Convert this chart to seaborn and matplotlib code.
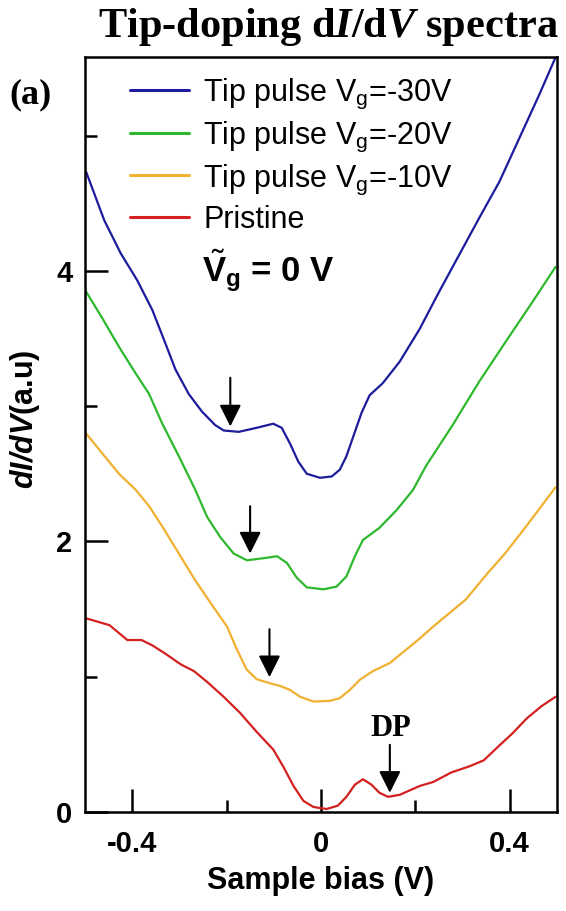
import pandas as pd
import matplotlib
matplotlib.use("Agg")
import matplotlib.pyplot as plt
import seaborn as sns
from matplotlib.ticker import MultipleLocator

sns.set_theme(style="ticks")
plt.rcParams['font.family'] = ['Liberation Sans', 'DejaVu Sans']
plt.rcParams['mathtext.fontset'] = 'custom'
plt.rcParams['mathtext.rm'] = 'Liberation Sans'
plt.rcParams['mathtext.bf'] = 'Liberation Sans:bold'
plt.rcParams['mathtext.sf'] = 'Liberation Sans:bold:italic'
plt.rcParams['mathtext.it'] = 'Liberation Serif:bold:italic'
for key in ['text.color', 'axes.labelcolor', 'xtick.color', 'ytick.color', 'axes.edgecolor']:
    plt.rcParams[key] = 'black'

# Kurver lest av bildet (bias i V, dI/dV i a.u.)
bias_blue = [-0.497, -0.459, -0.424, -0.389, -0.357, -0.329, -0.308, -0.280, -0.252, -0.224,
             -0.206, -0.174, -0.136, -0.101, -0.083, -0.065, -0.048, -0.030, -0.002, 0.023,
             0.040, 0.054, 0.068, 0.086, 0.103, 0.131, 0.167, 0.209, 0.251, 0.293, 0.335,
             0.378, 0.420, 0.462, 0.497]
didv_blue = [4.73, 4.375, 4.13, 3.93, 3.71, 3.46, 3.27, 3.09, 2.96, 2.86,
             2.82, 2.81, 2.84, 2.87, 2.84, 2.72, 2.59, 2.50, 2.47, 2.48,
             2.53, 2.63, 2.77, 2.95, 3.08, 3.17, 3.33, 3.57, 3.85, 4.12, 4.39,
             4.66, 4.98, 5.30, 5.58]

bias_green = [-0.498, -0.463, -0.428, -0.392, -0.364, -0.336, -0.301, -0.266, -0.241, -0.213,
              -0.185, -0.157, -0.122, -0.093, -0.072, -0.051, -0.030, 0.005, 0.033, 0.054,
              0.072, 0.089, 0.124, 0.160, 0.195, 0.223, 0.279, 0.335, 0.392, 0.448, 0.497]
didv_green = [3.85, 3.65, 3.44, 3.24, 3.09, 2.87, 2.63, 2.38, 2.18, 2.03,
              1.91, 1.86, 1.875, 1.89, 1.84, 1.73, 1.66, 1.645, 1.665, 1.74,
              1.89, 2.01, 2.10, 2.23, 2.38, 2.56, 2.86, 3.18, 3.48, 3.77, 4.03]

bias_orange = [-0.498, -0.463, -0.428, -0.392, -0.364, -0.336, -0.301, -0.266, -0.231, -0.199,
               -0.178, -0.157, -0.136, -0.108, -0.086, -0.065, -0.044, -0.016, 0.019, 0.040,
               0.061, 0.082, 0.110, 0.146, 0.181, 0.209, 0.238, 0.276, 0.307, 0.352, 0.390,
               0.428, 0.467, 0.497]
didv_orange = [2.80, 2.65, 2.50, 2.38, 2.26, 2.11, 1.91, 1.71, 1.53, 1.37,
               1.20, 1.05, 0.98, 0.95, 0.93, 0.90, 0.85, 0.815, 0.82, 0.84,
               0.90, 0.975, 1.04, 1.10, 1.20, 1.28, 1.37, 1.48, 1.57, 1.76, 1.91,
               2.08, 2.26, 2.40]

bias_red = [-0.497, -0.448, -0.410, -0.380, -0.357, -0.330, -0.297, -0.269, -0.241, -0.206,
            -0.171, -0.136, -0.101, -0.080, -0.058, -0.037, -0.016, 0.012, 0.036, 0.054,
            0.072, 0.089, 0.107, 0.124, 0.142, 0.167, 0.209, 0.238, 0.276, 0.314, 0.345,
            0.375, 0.406, 0.436, 0.467, 0.497]
didv_red = [1.43, 1.38, 1.27, 1.27, 1.23, 1.17, 1.09, 1.04, 0.96, 0.85,
            0.73, 0.59, 0.46, 0.335, 0.19, 0.08, 0.035, 0.02, 0.045, 0.11,
            0.20, 0.24, 0.20, 0.14, 0.11, 0.125, 0.19, 0.22, 0.29, 0.335, 0.38,
            0.48, 0.58, 0.69, 0.78, 0.85]

labels = ['Tip pulse V$_\\mathrm{g}$=-30V', 'Tip pulse V$_\\mathrm{g}$=-20V',
          'Tip pulse V$_\\mathrm{g}$=-10V', 'Pristine']
colors = ['#1c1c9c', '#2eb82e', '#f0b030', '#d42020']

# Piler: (bias, hale, spiss)
arrow_bias = [-0.192, -0.150, -0.109, 0.146]
arrow_tail = [3.21, 2.26, 1.35, 0.495]
arrow_tip = [2.85, 1.91, 0.995, 0.14]

frames = []
for lab, xs, ys in zip(labels, [bias_blue, bias_green, bias_orange, bias_red],
                       [didv_blue, didv_green, didv_orange, didv_red]):
    frames.append(pd.DataFrame({'bias': xs, 'didv': ys, 'kurve': lab}))
df = pd.concat(frames, ignore_index=True)

fig = plt.figure(figsize=(5.66, 9.11), dpi=100)
ax = fig.add_axes([0.150, 0.109, 0.834, 0.828])

sns.lineplot(data=df, x='bias', y='didv', hue='kurve', hue_order=labels,
             palette=colors, estimator=None, sort=False, linewidth=1.6, ax=ax)

for xb, yt, yh in zip(arrow_bias, arrow_tail, arrow_tip):
    ax.annotate('', xy=(xb, yh), xytext=(xb, yt),
                arrowprops=dict(arrowstyle='-|>,head_length=1.1,head_width=0.55',
                                color='black', lw=1.5, shrinkA=0, shrinkB=0))

ax.text(0.149, 0.617, 'DP', ha='center', va='center', fontsize=22,
        fontweight='bold', family='Liberation Serif')
ax.text(0.248, 0.702, r'$\tilde{\mathbf{V}}_{\mathbf{g}}$ = 0 V', transform=ax.transAxes,
        ha='left', va='baseline', fontsize=25, fontweight='bold')

ax.set_xlim(-0.5, 0.5)
ax.set_ylim(0, 5.58)
ax.xaxis.set_minor_locator(MultipleLocator(0.2))
ax.yaxis.set_minor_locator(MultipleLocator(1))
ax.set_xticks([-0.4, 0, 0.4])
ax.set_xticklabels(['-0.4', '0', '0.4'])
ax.set_yticks([0, 2, 4])
ax.set_yticklabels(['0', '2', '4'])
ax.tick_params(which='major', direction='in', length=16.5, width=1.8,
               labelsize=21, top=False, right=False)
ax.tick_params(which='minor', direction='in', length=8.5, width=1.8,
               top=False, right=False)
ax.tick_params(axis='x', pad=13)
ax.tick_params(axis='y', pad=9)
for lbl in ax.get_xticklabels() + ax.get_yticklabels():
    lbl.set_fontweight('bold')
for sp in ax.spines.values():
    sp.set_linewidth(1.8)

ax.set_xlabel('Sample bias (V)', fontsize=22, fontweight='bold', labelpad=6)
ax.set_ylabel(r'$\mathsf{dI/dV}$(a.u)', fontsize=22, fontweight='bold')
ax.yaxis.set_label_coords(-0.090, 0.52)

leg = ax.legend(loc='upper left', bbox_to_anchor=(0.095, 0.975), frameon=False,
                fontsize=22, handlelength=1.95, handletextpad=0.45,
                labelspacing=0.27, borderpad=0, borderaxespad=0)
for ln in leg.get_lines():
    ln.set_linewidth(2.2)

fig.text(0.986, 0.959, r'Tip-doping d$\mathit{I}$/d$\mathit{V}$ spectra', ha='right',
         va='baseline', fontsize=30.5, fontweight='bold', family='Liberation Serif')
fig.text(0.016, 0.896, '(a)', ha='left', va='center', fontsize=26,
         fontweight='bold', family='Liberation Serif')

fig.savefig('out.png', dpi=100)
